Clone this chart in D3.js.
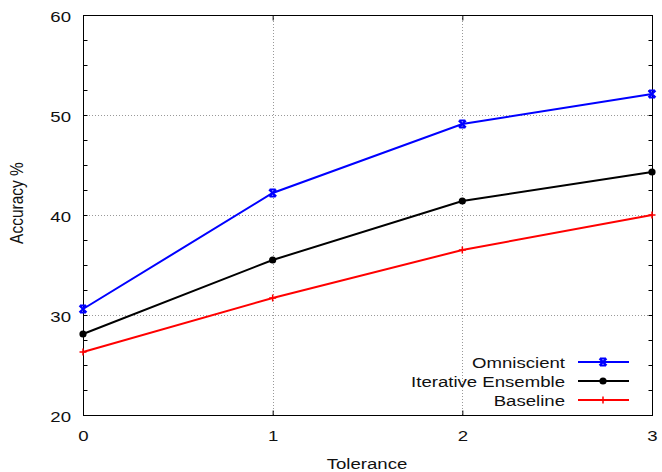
<!DOCTYPE html>
<html>
<head>
<meta charset="utf-8">
<script src="https://cdn.jsdelivr.net/npm/d3@7"></script>
<style>
  body { margin: 0; background: #fff; }
  svg { display: block; }
  text { font-family: "Liberation Sans", Arial, sans-serif; font-size: 15.5px; fill: #111; }
</style>
</head>
<body>
<svg width="662" height="472"></svg>
<script>
// data
var tolerance = [0, 1, 2, 3];
var omniscient = [30.6, 42.2, 49.1, 52.1];
var iterative = [28.1, 35.5, 41.4, 44.3];
var baseline = [26.3, 31.7, 36.5, 40.0];
var yTicks = [20, 30, 40, 50, 60];
var seriesNames = ["Omniscient", "Iterative Ensemble", "Baseline"];

var svg = d3.select("svg");
// note: "top" is taken by window.top, so use plot* names
var plotLeft = 83, plotRight = 652, plotTop = 15, plotBottom = 415;
var sx = 1.2; // glyphs in the picture are a bit wider than tall

var x = d3.scaleLinear().domain([0, 3]).range([plotLeft, plotRight]);
var y = d3.scaleLinear().domain([20, 60]).range([plotBottom, plotTop]);

// grid
var grid = svg.append("g")
  .attr("stroke", "#999")
  .attr("stroke-width", 1)
  .attr("stroke-dasharray", "1,2");
grid.selectAll(".gy").data(yTicks.slice(1, -1)).enter().append("line")
  .attr("x1", plotLeft).attr("x2", plotRight)
  .attr("y1", function(d) { return Math.round(y(d)) + 0.5; })
  .attr("y2", function(d) { return Math.round(y(d)) + 0.5; });
grid.selectAll(".gx").data(tolerance.slice(1, -1)).enter().append("line")
  .attr("y1", plotTop).attr("y2", plotBottom)
  .attr("x1", function(d) { return Math.round(x(d)) + 0.5; })
  .attr("x2", function(d) { return Math.round(x(d)) + 0.5; });

// axes (ticks inward)
var minor = d3.range(20, 60.01, 2.5);
svg.append("g").attr("transform", "translate(" + (plotLeft + 0.5) + ",0)")
  .call(d3.axisRight(y).tickValues(minor).tickSize(4).tickFormat(""))
  .call(function(g) { g.select(".domain").remove(); });
svg.append("g").attr("transform", "translate(" + (plotRight + 0.5) + ",0)")
  .call(d3.axisLeft(y).tickValues(minor).tickSize(4).tickFormat(""))
  .call(function(g) { g.select(".domain").remove(); });
svg.append("g").attr("transform", "translate(0," + (plotBottom + 0.5) + ")")
  .call(d3.axisTop(x).tickValues(tolerance).tickSize(5).tickFormat(""))
  .call(function(g) { g.select(".domain").remove(); });
svg.append("g").attr("transform", "translate(0," + (plotTop + 0.5) + ")")
  .call(d3.axisBottom(x).tickValues(tolerance).tickSize(5).tickFormat(""))
  .call(function(g) { g.select(".domain").remove(); });

// tick labels
var yl = svg.append("g").attr("transform", "translate(" + plotLeft + ",0)")
  .call(d3.axisLeft(y).tickValues(yTicks).tickSize(0).tickPadding(0));
yl.select(".domain").remove();
yl.selectAll("text").attr("x", 0).attr("dy", null)
  .attr("transform", "translate(-12,6) scale(" + sx + ",1)")
  .style("font-size", "15.5px").attr("fill", "#111")
  .attr("font-family", null);
var xl = svg.append("g").attr("transform", "translate(0," + plotBottom + ")")
  .call(d3.axisBottom(x).tickValues(tolerance).tickFormat(d3.format("d")).tickSize(0).tickPadding(0));
xl.select(".domain").remove();
xl.selectAll("text").attr("y", 0).attr("dy", null)
  .attr("transform", "translate(0,26) scale(" + sx + ",1)")
  .style("font-size", "15.5px").attr("fill", "#111")
  .attr("font-family", null);

// border
svg.append("rect")
  .attr("x", plotLeft + 0.5).attr("y", plotTop + 0.5)
  .attr("width", plotRight - plotLeft).attr("height", plotBottom - plotTop)
  .attr("fill", "none").attr("stroke", "#000");

// axis titles
svg.append("text")
  .attr("text-anchor", "middle")
  .attr("transform", "translate(367,469) scale(" + sx + ",1)")
  .text("Tolerance");
svg.append("text")
  .attr("text-anchor", "middle")
  .attr("transform", "translate(23,203) scale(" + sx + ",1) rotate(-90)")
  .text("Accuracy %");

// markers
function drawMarker(g, kind, color) {
  if (kind === "x") {
    g.append("path").attr("d", "M-3.5,-3.5L3.5,3.5M-3.5,3.5L3.5,-3.5M-3,-3.5H3M-3,3.5H3")
      .attr("stroke", color).attr("stroke-width", 2.2).attr("fill", "none");
  } else if (kind === "dot") {
    g.append("circle").attr("r", 3.6).attr("fill", color);
  } else {
    g.append("path").attr("d", "M-3.5,0H3.5M0,-3.5V3.5")
      .attr("stroke", color).attr("stroke-width", 1.5).attr("fill", "none");
  }
}

var series = [
  { name: seriesNames[0], values: omniscient, color: "#0000ff", marker: "x" },
  { name: seriesNames[1], values: iterative, color: "#000000", marker: "dot" },
  { name: seriesNames[2], values: baseline, color: "#ff0000", marker: "plus" }
];

var line = d3.line()
  .x(function(d, i) { return x(tolerance[i]); })
  .y(function(d) { return y(d); });

// draw bottom series first
series.slice().reverse().forEach(function(s) {
  svg.append("path").datum(s.values)
    .attr("d", line)
    .attr("fill", "none")
    .attr("stroke", s.color)
    .attr("stroke-width", 2);
  s.values.forEach(function(v, i) {
    drawMarker(svg.append("g").attr("transform", "translate(" + x(tolerance[i]) + "," + y(v) + ")"), s.marker, s.color);
  });
});

// legend
var legendY = [362, 381, 400];
series.forEach(function(s, i) {
  var g = svg.append("g").attr("transform", "translate(0," + legendY[i] + ")");
  g.append("text").attr("text-anchor", "end")
    .attr("transform", "translate(565,5.5) scale(" + sx + ",1)")
    .text(s.name);
  g.append("line").attr("x1", 578).attr("x2", 629)
    .attr("stroke", s.color).attr("stroke-width", 2);
  drawMarker(g.append("g").attr("transform", "translate(603,0)"), s.marker, s.color);
});
</script>
</body>
</html>
